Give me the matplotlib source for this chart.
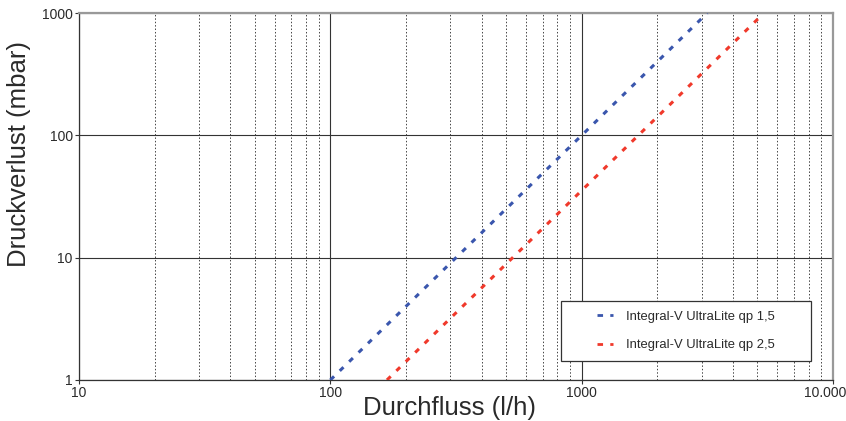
import matplotlib
matplotlib.use("Agg")
import matplotlib.pyplot as plt
from matplotlib.ticker import FixedLocator, NullFormatter, FixedFormatter
from matplotlib.patches import Rectangle
from matplotlib.transforms import ScaledTranslation

plt.rcParams['font.family'] = ['Liberation Sans', 'DejaVu Sans']

# Data
flow_qp15 = [100, 1000, 3160]
dp_qp15 = [1, 100, 1000]
flow_qp25 = [168, 1000, 5040]
dp_qp25 = [1, 35.4, 900]

series_labels = ["Integral-V UltraLite qp 1,5", "Integral-V UltraLite qp 2,5"]
x_ticks = [10, 100, 1000, 10000]
x_tick_labels = ["10", "100", "1000", "10.000"]
y_ticks = [1, 10, 100, 1000]
y_tick_labels = ["1", "10", "100", "1000"]

blue = "#3a56ad"
red = "#f0392b"
txt = "#2a2a2a"

fig = plt.figure(figsize=(8.46, 4.21), dpi=100)
ax = fig.add_axes([0.0934, 0.0974, 0.8912, 0.8716])
ax.set_xscale('log')
ax.set_yscale('log')
ax.set_xlim(10, 10000)
ax.set_ylim(1, 1000)

ax.plot(flow_qp15, dp_qp15, color=blue, lw=2.2, dashes=(1.7, 2.6),
        label=series_labels[0], zorder=3)
ax.plot(flow_qp25, dp_qp25, color=red, lw=2.2, dashes=(1.7, 2.6),
        label=series_labels[1], zorder=3)

ax.xaxis.set_major_locator(FixedLocator(x_ticks))
ax.xaxis.set_major_formatter(FixedFormatter(x_tick_labels))
minor_x = [m * d for d in (10, 100, 1000) for m in range(2, 10)]
ax.xaxis.set_minor_locator(FixedLocator(minor_x))
ax.xaxis.set_minor_formatter(NullFormatter())
ax.yaxis.set_major_locator(FixedLocator(y_ticks))
ax.yaxis.set_major_formatter(FixedFormatter(y_tick_labels))
ax.yaxis.set_minor_locator(FixedLocator([]))

ax.grid(True, which='major', color='#333333', lw=0.8, ls='-', zorder=1)
ax.grid(True, which='minor', axis='x', color='#444444', lw=0.7,
        ls=(0, (1.5, 2.0)), zorder=1)

ax.tick_params(axis='both', which='major', length=3, width=0.8,
               color='#333333', labelsize=10, labelcolor=txt, pad=1.5)
ax.tick_params(axis='both', which='minor', length=0)

for side in ('left', 'bottom'):
    ax.spines[side].set_color('#333333')
    ax.spines[side].set_linewidth(0.9)
for side in ('top', 'right'):
    ax.spines[side].set_color('#999999')
    ax.spines[side].set_linewidth(1.6)

# keep the last x tick label inside the figure
fig.canvas.draw()
last = ax.get_xticklabels()[-1]
last.set_ha('right')
last.set_transform(last.get_transform() + ScaledTranslation(13 / 100, 0, fig.dpi_scale_trans))

ax.text(0.492, -0.076, "Durchfluss (l/h)", transform=ax.transAxes,
        ha='center', va='center', fontsize=18.5, color=txt)
ax.text(-0.0796, 0.616, "Druckverlust (mbar)", transform=ax.transAxes,
        ha='center', va='center', rotation=90, fontsize=18.5, color=txt)

# legend frame
ax.add_patch(Rectangle((0.639, 0.052), 0.332, 0.163, transform=ax.transAxes,
                       facecolor='white', edgecolor='#333333', lw=0.9,
                       zorder=4))
leg = ax.legend(loc='center', bbox_to_anchor=(0.639 + 0.166, 0.052 + 0.0815),
                fontsize=9.4, frameon=False, handlelength=1.25,
                handletextpad=1.0, borderpad=0, labelspacing=1.25,
                borderaxespad=0)
leg.set_zorder(5)
for t in leg.get_texts():
    t.set_color(txt)
for h in leg.legend_handles:
    h.set_linewidth(2.0)
    h.set_dashes((2.0, 2.6))

fig.savefig("out.png", dpi=100)
